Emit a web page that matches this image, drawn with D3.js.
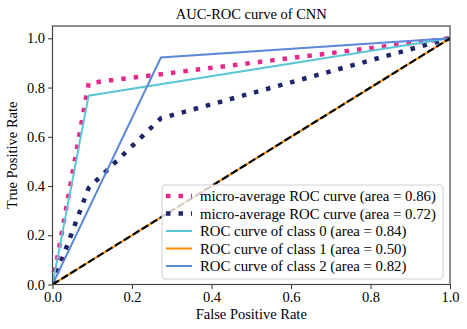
<!DOCTYPE html>
<html>
<head>
<meta charset="utf-8">
<script src="https://cdn.jsdelivr.net/npm/d3@7"></script>
<style>
  html, body { margin: 0; padding: 0; background: #fff; }
  svg { display: block; }
  text { font-family: "Liberation Serif", "Times New Roman", serif; fill: #000; }
</style>
</head>
<body>
<svg id="chart" width="467" height="329"></svg>
<script>
// ---- data ----
const title = "AUC-ROC curve of CNN";
const xLabel = "False Positive Rate";
const yLabel = "True Positive Rate";
const xTicks = [0, 0.2, 0.4, 0.6, 0.8, 1.0];
const yTicks = [0, 0.2, 0.4, 0.6, 0.8, 1.0];

const microFpr = [0, 0.0909, 1];
const microTpr = [0, 0.818, 1];
const macroFpr = [0, 0.0909, 0.2727, 1];
const macroTpr = [0, 0.392, 0.675, 1];
const class0Fpr = [0, 0.0909, 1];
const class0Tpr = [0, 0.767, 1];
const class1Fpr = [0, 1];
const class1Tpr = [0, 1];
const class2Fpr = [0, 0.2727, 1];
const class2Tpr = [0, 0.922, 1];
const diagFpr = [0, 1];
const diagTpr = [0, 1];

const seriesLabels = [
  "micro-average ROC curve (area = 0.86)",
  "micro-average ROC curve (area = 0.72)",
  "ROC curve of class 0 (area = 0.84)",
  "ROC curve of class 1 (area = 0.50)",
  "ROC curve of class 2 (area = 0.82)"
];
const seriesColors = ["#e8288a", "#1c2668", "#5cc6d6", "#ff8c00", "#5b88d8"];

// ---- layout ----
const svg = d3.select("#chart");
const mLeft = 52.5, mRight = 450, mTop = 26, mBottom = 284.5;
const x = d3.scaleLinear().domain([0, 1]).range([mLeft, mRight]);
const y = d3.scaleLinear().domain([0, 1.05]).range([mBottom, mTop]);

svg.append("defs").append("clipPath").attr("id", "clip")
  .append("rect").attr("x", mLeft).attr("y", mTop)
  .attr("width", mRight - mLeft).attr("height", mBottom - mTop);

const line = d3.line().x(d => x(d[0])).y(d => y(d[1]));
const zip = (a, b) => a.map((v, i) => [v, b[i]]);

const styles = [
  { w: 4.5, dash: "4.5,8" },
  { w: 4.5, dash: "4.5,8" },
  { w: 2, dash: null },
  { w: 2, dash: null },
  { w: 2, dash: null }
];
const seriesData = [
  zip(microFpr, microTpr),
  zip(macroFpr, macroTpr),
  zip(class0Fpr, class0Tpr),
  zip(class1Fpr, class1Tpr),
  zip(class2Fpr, class2Tpr)
];

const plot = svg.append("g").attr("clip-path", "url(#clip)");
seriesData.forEach((d, i) => {
  plot.append("path").datum(d).attr("d", line)
    .attr("fill", "none")
    .attr("stroke", seriesColors[i])
    .attr("stroke-width", styles[i].w)
    .attr("stroke-dasharray", styles[i].dash)
    .attr("stroke-linecap", "butt");
});
plot.append("path").datum(zip(diagFpr, diagTpr)).attr("d", line)
  .attr("fill", "none").attr("stroke", "#000")
  .attr("stroke-width", 2.2).attr("stroke-dasharray", "7.5,3");

// ---- axes ----
const xAxis = d3.axisBottom(x).tickValues(xTicks).tickFormat(d3.format(".1f")).tickSizeOuter(0).tickSize(4.5).tickPadding(3);
const yAxis = d3.axisLeft(y).tickValues(yTicks).tickFormat(d3.format(".1f")).tickSizeOuter(0).tickSize(4.5).tickPadding(3);

const gx = svg.append("g").attr("transform", `translate(0,${mBottom})`).call(xAxis);
const gy = svg.append("g").attr("transform", `translate(${mLeft},0)`).call(yAxis);
[gx, gy].forEach(g => {
  g.select(".domain").remove();
  g.selectAll(".tick line").attr("stroke", "#333").attr("stroke-width", 1);
  g.selectAll(".tick text").style("font-family", '"Liberation Serif", "Times New Roman", serif')
    .style("font-size", "14.5px").attr("fill", "#000");
});

// frame
svg.append("rect").attr("x", mLeft).attr("y", mTop)
  .attr("width", mRight - mLeft).attr("height", mBottom - mTop)
  .attr("fill", "none").attr("stroke", "#444").attr("stroke-width", 1.2);

// ---- labels ----
svg.append("text").attr("x", (mLeft + mRight) / 2).attr("y", 19)
  .attr("text-anchor", "middle").style("font-size", "14.5px").text(title);
svg.append("text").attr("x", (mLeft + mRight) / 2).attr("y", 319)
  .attr("text-anchor", "middle").style("font-size", "14.5px").text(xLabel);
svg.append("text")
  .attr("transform", `translate(17,${(mTop + mBottom) / 2}) rotate(-90)`)
  .attr("text-anchor", "middle").style("font-size", "14.5px").text(yLabel);

// ---- legend ----
const lg = svg.append("g");
lg.append("rect").attr("x", 162).attr("y", 185).attr("width", 281).attr("height", 94)
  .attr("rx", 3).attr("fill", "#fff").attr("fill-opacity", 0.8)
  .attr("stroke", "#d0d0d0").attr("stroke-width", 1);
seriesLabels.forEach((lab, i) => {
  const cy = 196 + i * 17.5;
  lg.append("line").attr("x1", 166).attr("x2", 192).attr("y1", cy).attr("y2", cy)
    .attr("stroke", seriesColors[i]).attr("stroke-width", styles[i].w)
    .attr("stroke-dasharray", styles[i].dash);
  lg.append("text").attr("x", 200).attr("y", cy).attr("dy", "0.35em")
    .style("font-size", "14.8px").text(lab);
});
</script>
</body>
</html>
